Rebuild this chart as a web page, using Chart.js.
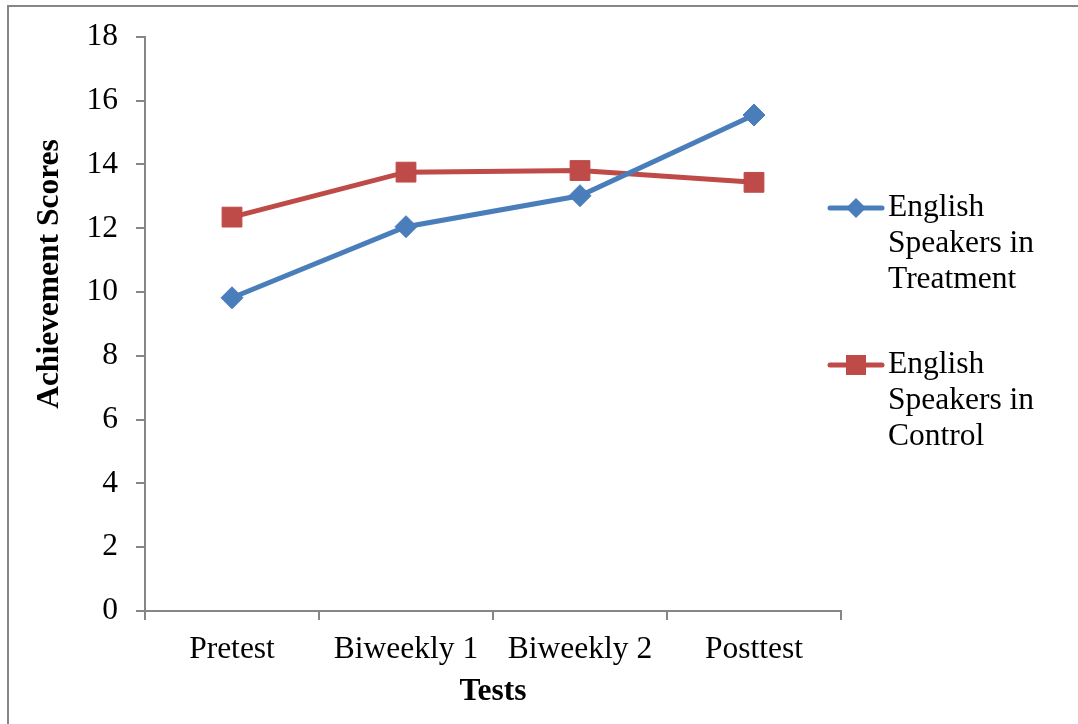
<!DOCTYPE html>
<html>
<head>
<meta charset="utf-8">
<script src="https://cdn.jsdelivr.net/npm/chart.js@4.4.0/dist/chart.umd.min.js"></script>
<style>
    body { margin: 0; background: #fff; overflow: hidden; }
    #wrap { position: relative; width: 1078px; height: 724px; }
    #frame {
        position: absolute; left: 7px; top: 5px; width: 1100px; height: 760px;
        border-left: 2px solid #868686; border-top: 2px solid #868686;
    }
    #chart { position: absolute; left: 0; top: 0; }
</style>
</head>
<body>
<div id="wrap">
    <div id="frame"></div>
    <canvas id="chart" width="1078" height="724"></canvas>
</div>
<script>
// data
const tests = ["Pretest", "Biweekly 1", "Biweekly 2", "Posttest"];
const treatmentScores = [9.82, 12.05, 13.02, 15.55];
const controlScores = [12.35, 13.76, 13.81, 13.44];
const seriesNames = ["English Speakers in Treatment", "English Speakers in Control"];
const legendLines = [["English", "Speakers in", "Treatment"], ["English", "Speakers in", "Control"]];
const yTicks = [0, 2, 4, 6, 8, 10, 12, 14, 16, 18];

const FONT = "'Liberation Serif', 'Times New Roman', serif";
const FSIZE = 31.5;
const BLUE = "#4A7EBB";
const RED = "#BE4B48";
const AXIS = "#868686";

// y axis title sits off-centre in the original, so draw it by hand
const yTitlePlugin = {
    id: "yTitle",
    afterDraw(chart) {
        const ctx = chart.ctx;
        ctx.save();
        ctx.translate(50, 274);
        ctx.rotate(-Math.PI / 2);
        ctx.font = "bold " + FSIZE + "px " + FONT;
        ctx.fillStyle = "#000";
        ctx.textAlign = "center";
        ctx.textBaseline = "middle";
        ctx.fillText("Achievement Scores", 0, 0);
        ctx.restore();
    }
};

// legend with wrapped labels on the right
const legendPlugin = {
    id: "wrapLegend",
    afterDraw(chart) {
        const ctx = chart.ctx;
        const tops = [208, 365];
        chart.data.datasets.forEach((ds, i) => {
            const y = tops[i];
            ctx.save();
            ctx.strokeStyle = ds.borderColor;
            ctx.lineWidth = 5;
            ctx.lineCap = "round";
            ctx.beginPath();
            ctx.moveTo(830, y);
            ctx.lineTo(882, y);
            ctx.stroke();
            ctx.fillStyle = ds.borderColor;
            ctx.beginPath();
            if (ds.pointStyle === "rectRot") {
                const r = 10;
                ctx.moveTo(856 - r, y);
                ctx.lineTo(856, y - r);
                ctx.lineTo(856 + r, y);
                ctx.lineTo(856, y + r);
            } else {
                ctx.rect(856 - 10, y - 10, 20, 20);
            }
            ctx.closePath();
            ctx.fill();
            ctx.fillStyle = "#000";
            ctx.font = FSIZE + "px " + FONT;
            ctx.textBaseline = "middle";
            legendLines[i].forEach((line, k) => ctx.fillText(line, 888, y + k * 36));
            ctx.restore();
        });
    }
};

new Chart(document.getElementById("chart"), {
    type: "line",
    data: {
        labels: tests,
        datasets: [{
            label: seriesNames[0],
            data: treatmentScores,
            borderColor: BLUE,
            backgroundColor: BLUE,
            borderWidth: 5,
            pointStyle: "rectRot",
            pointRadius: 11,
            pointBorderWidth: 1,
            pointBackgroundColor: BLUE,
            pointBorderColor: BLUE,
            tension: 0
        }, {
            label: seriesNames[1],
            data: controlScores,
            borderColor: RED,
            backgroundColor: RED,
            borderWidth: 5,
            pointStyle: "rect",
            pointRadius: 14,
            pointBorderWidth: 1,
            pointBackgroundColor: RED,
            pointBorderColor: RED,
            tension: 0
        }]
    },
    options: {
        responsive: false,
        animation: false,
        layout: { padding: { left: 0, right: 237, top: 35, bottom: 0 } },
        plugins: {
            legend: { display: false },
            tooltip: { enabled: false }
        },
        scales: {
            x: {
                offset: true,
                grid: { display: true, offset: true, drawOnChartArea: false, color: AXIS, tickLength: 9, lineWidth: 2 },
                border: { color: AXIS, width: 2 },
                ticks: { color: "#000", font: { family: FONT, size: FSIZE }, padding: 11, maxRotation: 0 },
                title: { display: true, text: "Tests", color: "#000", font: { family: FONT, size: FSIZE, weight: "bold" }, padding: { top: 0, bottom: 13 } },
                afterFit(scale) { scale.height = 113; }
            },
            y: {
                min: 0,
                max: 18,
                afterBuildTicks(scale) { scale.ticks = yTicks.map(v => ({ value: v })); },
                grid: { display: true, drawOnChartArea: false, color: AXIS, tickLength: 9, lineWidth: 2 },
                border: { color: AXIS, width: 2 },
                ticks: { color: "#000", font: { family: FONT, size: FSIZE }, padding: 18 },
                afterFit(scale) { scale.width = 145; }
            }
        }
    },
    plugins: [yTitlePlugin, legendPlugin]
});
</script>
</body>
</html>
